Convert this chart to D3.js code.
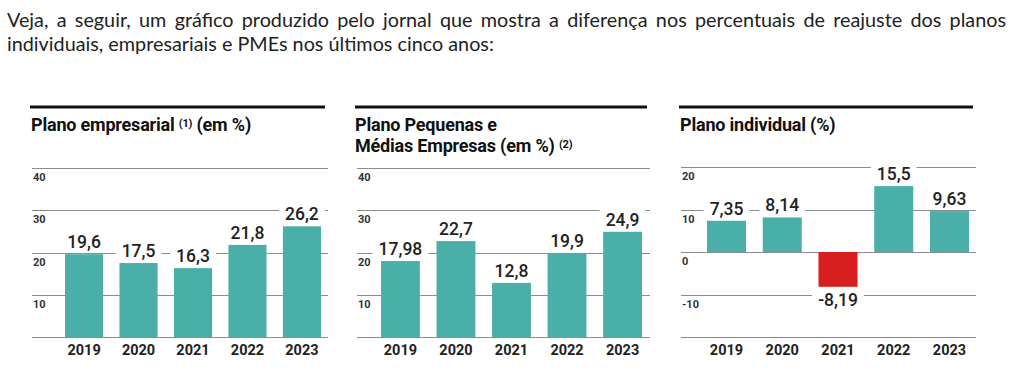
<!DOCTYPE html>
<html><head><meta charset="utf-8">
<script src="https://cdn.jsdelivr.net/npm/d3@7"></script>
<style>
html,body{margin:0;padding:0;background:#fff;}
svg{display:block;}
</style></head>
<body><svg id="c" width="1024" height="377"></svg>
<script>
// ---- data ----
const years = ["2019", "2020", "2021", "2022", "2023"];
const empresarial = [19.6, 17.5, 16.3, 21.8, 26.2];
const pme = [17.98, 22.7, 12.8, 19.9, 24.9];
const individual = [7.35, 8.14, -8.19, 15.5, 9.63];
const gridPositive = [0, 10, 20, 30, 40];
const tickLabelsPositive = [10, 20, 30, 40];
const gridIndividual = [-20, -10, 0, 10, 20];
const tickLabelsIndividual = [-10, 0, 10, 20];
const headerLines = [
  "Veja, a seguir, um gráfico produzido pelo jornal que mostra a diferença nos percentuais de reajuste dos planos",
  "individuais, empresariais e PMEs nos últimos cinco anos:"
];

const svg = d3.select("#c");
const TEAL = "#4bafa9", RED = "#d71f1f", GRID = "#8c8c8c";

// header
headerLines.forEach((t, i) => {
  const el = svg.append("text").attr("x", 7).attr("y", 27 + i * 24)
    .attr("font-family", "Lato, sans-serif").attr("font-size", 19.8).attr("fill", "#222").text(t);
  if (i === 0) {
    const w = el.node().getComputedTextLength();
    const spaces = t.split(" ").length - 1;
    el.attr("word-spacing", (1006 - 7 - w) / spaces);
  }
});

function panel(cfg) {
  const g = svg.append("g");
  const y = d3.scaleLinear().domain(cfg.domain).range([337, cfg.top]);
  const x = d3.scaleBand().domain(years).range(cfg.barRange).paddingInner(0.3).paddingOuter(0);
  // top thick rule
  g.append("line").attr("x1", cfg.gx0 - 2).attr("x2", cfg.gx1 - 3)
    .attr("y1", 107).attr("y2", 107).attr("stroke", "#111").attr("stroke-width", 3);
  // title
  cfg.title(g);
  // grid
  g.selectAll(".grid").data(cfg.grid).join("line")
    .attr("x1", cfg.gx0).attr("x2", cfg.gx1)
    .attr("y1", d => Math.round(y(d)) + 0.5).attr("y2", d => Math.round(y(d)) + 0.5)
    .attr("stroke", GRID).attr("stroke-width", 1);
  // tick labels
  g.selectAll(".tl").data(cfg.tickLabels).join("text")
    .attr("x", cfg.gx0 + 1).attr("y", d => y(d) + 13)
    .attr("font-family", "Roboto, sans-serif").attr("font-weight", 700)
    .attr("font-size", 11).attr("fill", "#333").text(d => d);
  // bars
  g.selectAll(".bar").data(cfg.values).join("rect")
    .attr("x", (d, i) => x(years[i])).attr("width", x.bandwidth())
    .attr("y", d => y(Math.max(0, d))).attr("height", d => Math.abs(y(d) - y(0)))
    .attr("fill", d => d < 0 ? RED : TEAL);
  // value labels with white box
  cfg.values.forEach((d, i) => {
    const cx = x(years[i]) + x.bandwidth() / 2;
    const by = d < 0 ? y(d) + 19 : y(d) - 6;
    const box = g.append("rect").attr("fill", "#fff");
    const t = g.append("text").attr("x", cx).attr("y", by).attr("text-anchor", "middle")
      .attr("font-family", "Roboto, sans-serif").attr("font-weight", 500)
      .attr("font-size", 17.5).attr("fill", "#222").text(String(d).replace(".", ","));
    const bb = t.node().getBBox();
    box.attr("x", bb.x - 6).attr("y", bb.y).attr("width", bb.width + 12).attr("height", bb.height);
  });
  // year labels
  g.selectAll(".yr").data(years).join("text")
    .attr("x", d => x(d) + x.bandwidth() / 2).attr("y", 355).attr("text-anchor", "middle")
    .attr("font-family", "Roboto, sans-serif").attr("font-weight", 700)
    .attr("font-size", 14.5).attr("fill", "#222").text(d => d);
}

function titleText(g, x, yb, parts) {
  const t = g.append("text").attr("x", x).attr("y", yb)
    .attr("font-family", "Roboto, sans-serif").attr("font-weight", 700)
    .attr("font-size", 18).attr("fill", "#111").attr("letter-spacing", -0.2);
  parts.forEach(p => {
    const s = t.append("tspan").text(p.t);
    if (p.sup) s.attr("font-size", 11).attr("dy", -4);
    if (p.back) s.attr("dy", 4);
  });
}

panel({
  domain: [0, 40], top: 168, barRange: [65, 321], gx0: 32, gx1: 328,
  grid: gridPositive, tickLabels: tickLabelsPositive, values: empresarial,
  title: g => titleText(g, 31, 131, [{t: "Plano empresarial "}, {t: "(1)", sup: true}, {t: " (em %)", back: true}])
});
panel({
  domain: [0, 40], top: 168, barRange: [381, 642], gx0: 357, gx1: 650,
  grid: gridPositive, tickLabels: tickLabelsPositive, values: pme,
  title: g => {
    titleText(g, 355, 131, [{t: "Plano Pequenas e"}]);
    titleText(g, 355, 152, [{t: "Médias Empresas (em %) "}, {t: "(2)", sup: true}]);
  }
});
panel({
  domain: [-20, 20], top: 167, barRange: [707, 969], gx0: 681, gx1: 976,
  grid: gridIndividual, tickLabels: tickLabelsIndividual, values: individual,
  title: g => titleText(g, 680, 131, [{t: "Plano individual (%)"}])
});
</script></body></html>
